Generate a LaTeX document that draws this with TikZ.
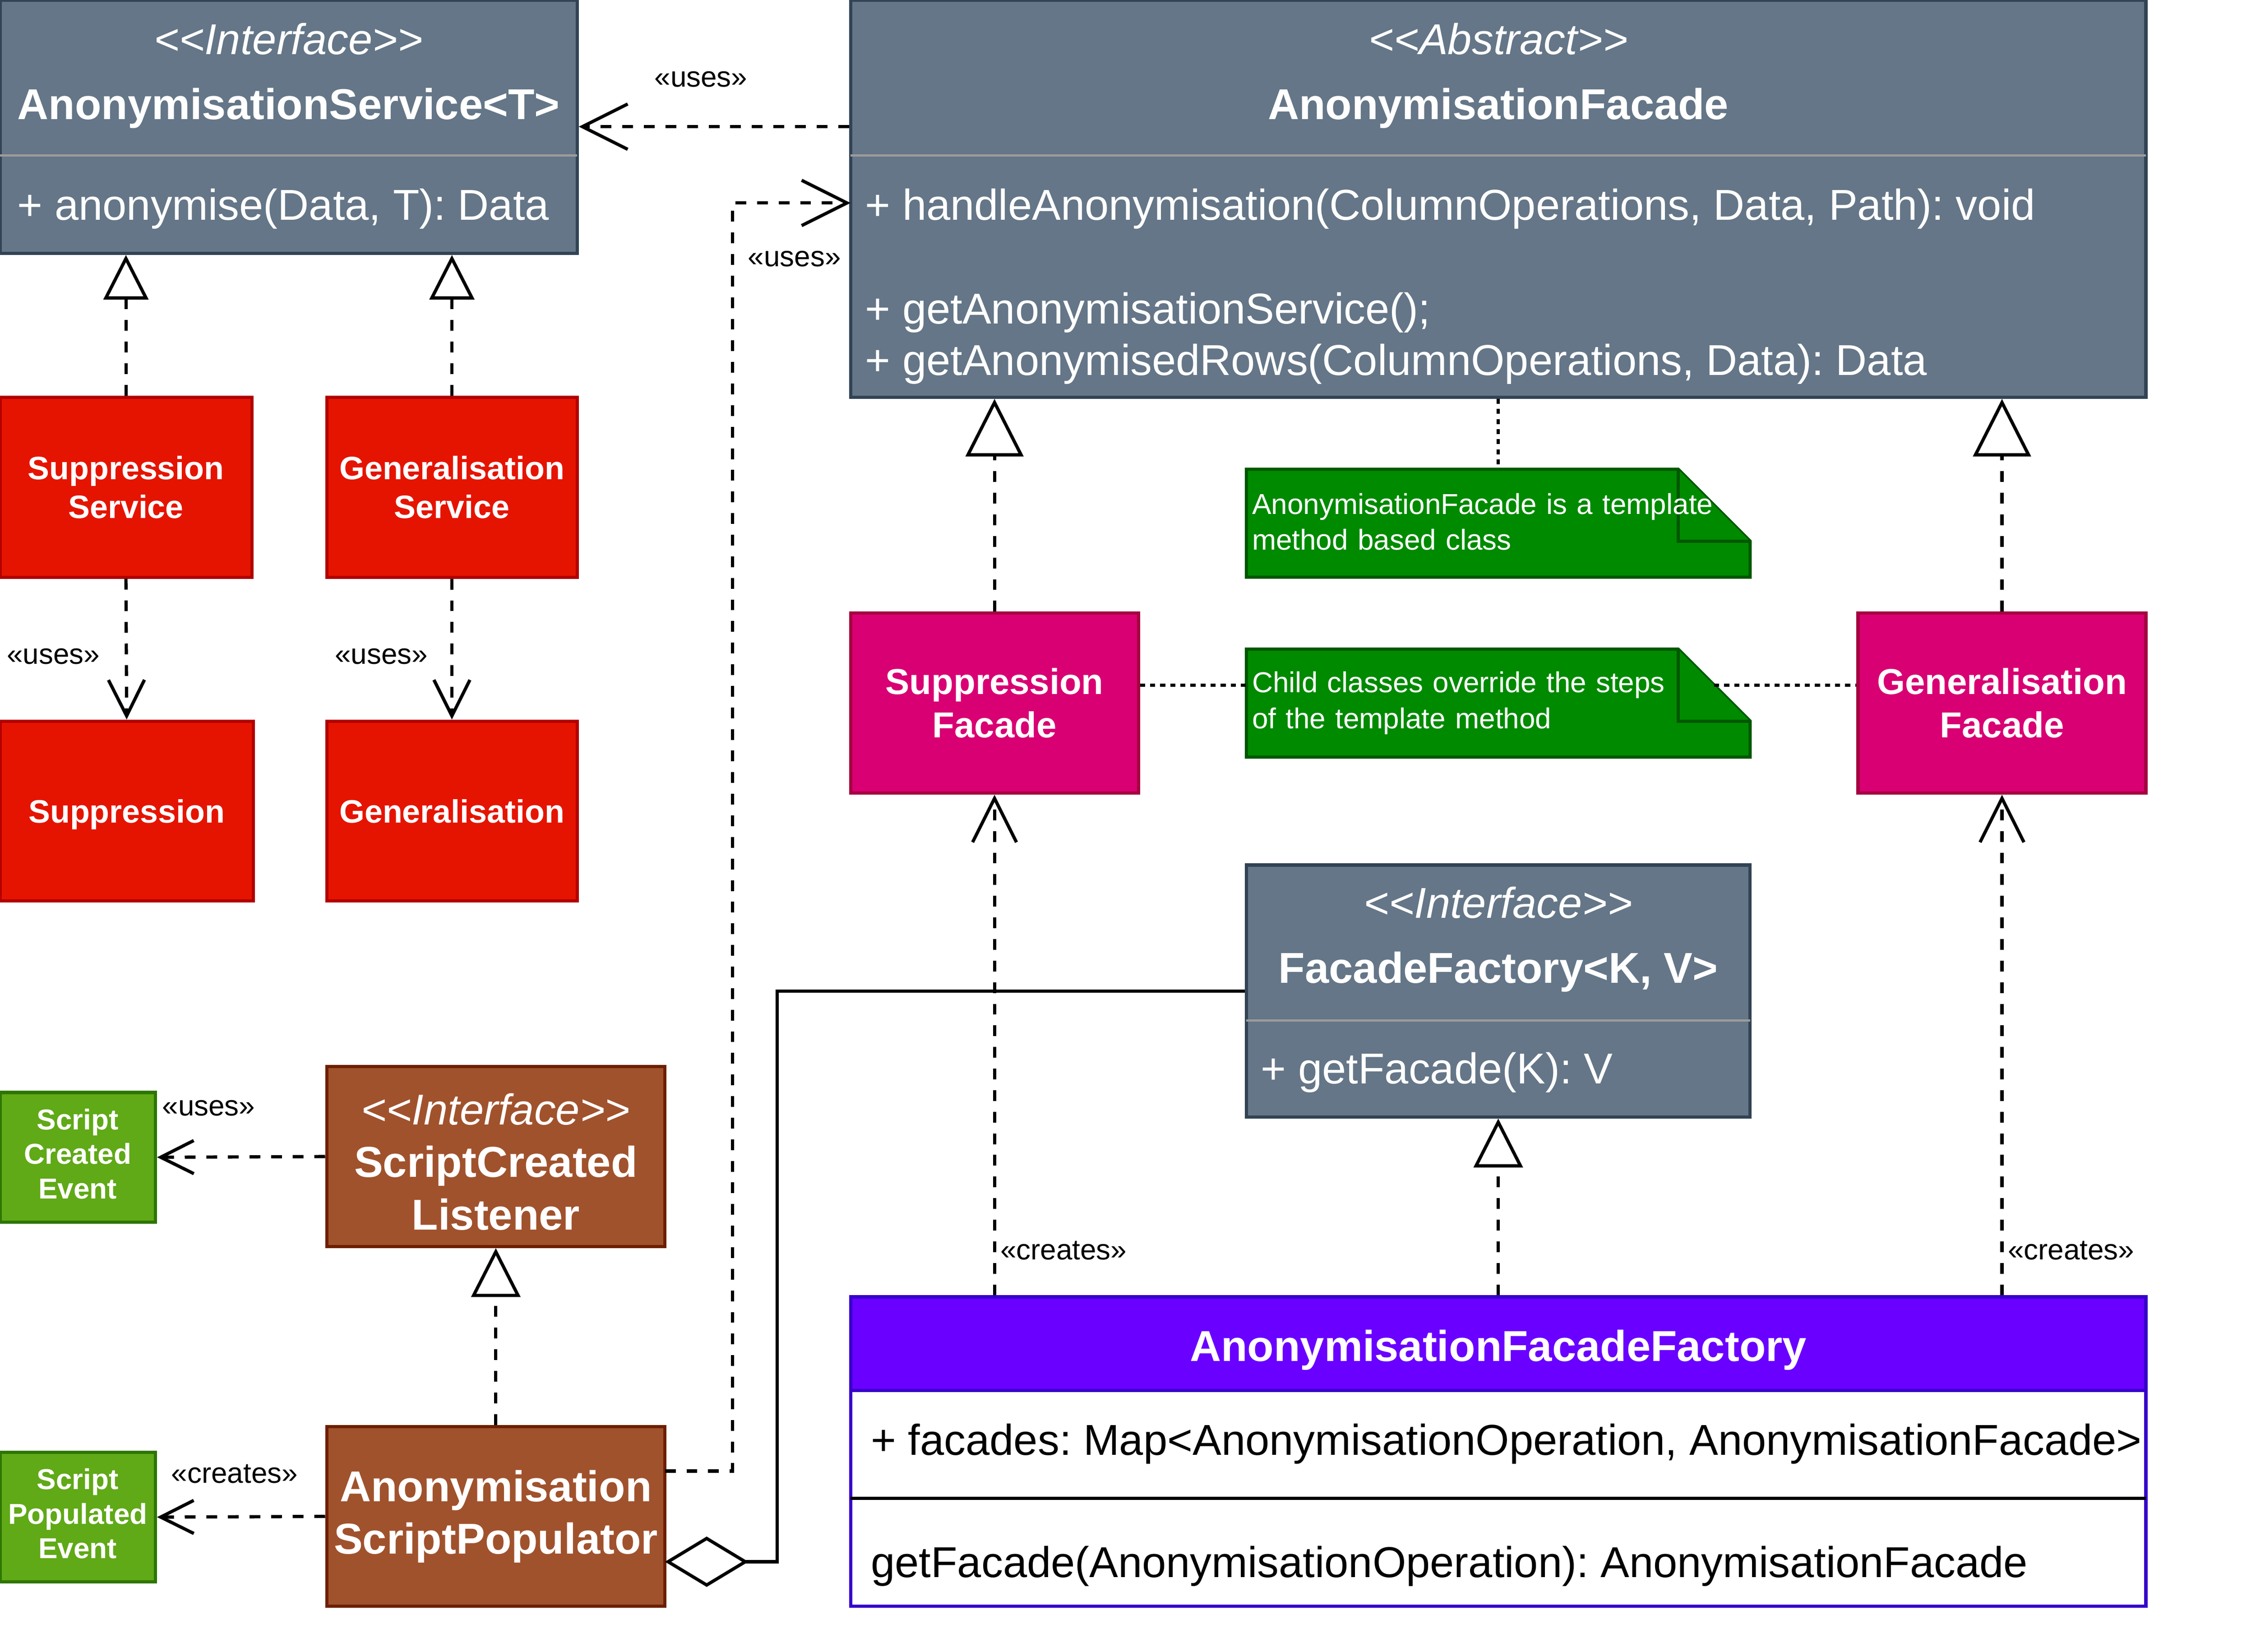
\documentclass[tikz,border=0pt]{standalone}
\usepackage{fontspec}
\setmainfont{Liberation Sans}
\usetikzlibrary{arrows.meta,calc}
\frenchspacing

\definecolor{slatefill}{HTML}{647687}
\definecolor{slateline}{HTML}{314354}
\definecolor{sepgray}{HTML}{9C9C9C}
\definecolor{redfill}{HTML}{E51400}
\definecolor{redline}{HTML}{B20000}
\definecolor{magfill}{HTML}{D80073}
\definecolor{magline}{HTML}{A50040}
\definecolor{notefill}{HTML}{008A00}
\definecolor{noteline}{HTML}{005700}
\definecolor{purpfill}{HTML}{6A00FF}
\definecolor{purpline}{HTML}{3700CC}
\definecolor{brownfill}{HTML}{A0522D}
\definecolor{brownline}{HTML}{6D1F00}
\definecolor{evfill}{HTML}{60A917}
\definecolor{evline}{HTML}{2D7600}

\def\fs#1#2{\fontsize{#1}{#2}\selectfont}
\def\guil#1{<\kern0pt<#1>\kern0pt>}

\tikzset{
	box/.style={draw, line width=2.25pt, inner sep=0pt, align=center, text=white},
	slatebox/.style={box, fill=slatefill, draw=slateline},
	redbox/.style={box, fill=redfill, draw=redline, font=\fs{22.5}{27}\bfseries},
	facadebox/.style={box, fill=magfill, draw=magline, font=\fs{25}{30}\bfseries},
	brownbox/.style={box, fill=brownfill, draw=brownline, font=\fs{30}{36.5}\bfseries},
	eventbox/.style={box, fill=evfill, draw=evline, font=\fs{20}{24}\bfseries},
	oneline/.style={text height=#1, text depth=0pt},
	notebox/.style={fill=notefill, draw=noteline, line width=2.25pt},
	notetext/.style={text=white, font=\fs{20}{25}, align=left, text width=342pt, inner xsep=4pt, inner ysep=0pt, minimum height=75pt},
	stereo/.style={oneline=21.6pt, text=white, font=\fs{30}{36}\itshape},
	classname/.style={oneline=21.6pt, text=white, font=\fs{30}{36}\bfseries},
	member/.style={oneline=21.6pt, anchor=west, inner sep=0pt, text=white, font=\fs{30}{36}},
	tag/.style={oneline=14.4pt, font=\fs{20}{24}},
	sepline/.style={draw=sepgray, line width=1.8pt},
	link/.style={line width=2.25pt, dash pattern=on 7.5pt off 7.5pt},
	usesarrow/.style={link, -{Straight Barb[length=#1, width=#1]}},
	realizearrow/.style={link, -{Triangle[fill=white, length=#1, width=#1]}},
	aggrline/.style={line width=2.25pt, -{Diamond[fill=white, length=58pt, width=35pt]}},
	notelink/.style={line width=2.25pt, dash pattern=on 3.5pt off 3.5pt}
}

\begin{document}
\begin{tikzpicture}[x=1pt, y=-1pt]
			%%%%% START %%%%%
			
			\useasboundingbox (0, 0) rectangle (1567.5, 1147.5);
			
			% services
			\node[slatebox, minimum width=401pt, minimum height=176pt] (as) at (200.5, 88) {};
			\draw[sepline] (0, 108) -- (401, 108);
			\node[stereo] (asstereo) at (200.5, 27) {\guil{Interface}};
			\node[classname] (asname) at (200.5, 72) {AnonymisationService<T>};
			\node[member] (asop) at (12, 142) {+ anonymise(Data, T): Data};
			
			\node[redbox, minimum width=175pt, minimum height=125pt] (supsvc) at (87.5, 338.5) {Suppression\\Service};
			\node[redbox, minimum width=174pt, minimum height=125pt] (gensvc) at (314, 338.5) {Generalisation\\Service};
			\node[redbox, oneline=16.2pt, minimum width=176pt, minimum height=125pt] (supp) at (88, 563.5) {Suppression};
			\node[redbox, oneline=16.2pt, minimum width=174pt, minimum height=125pt] (gen) at (314, 563.5) {Generalisation};
			
			% facades
			\node[slatebox, minimum width=900pt, minimum height=276pt] (af) at (1041, 138) {};
			\draw[sepline] (591, 108) -- (1491, 108);
			\node[stereo] (afstereo) at (1041, 27) {\guil{Abstract}};
			\node[classname] (afname) at (1041, 72) {AnonymisationFacade};
			\node[member] (afopa) at (601, 142) {+ handleAnonymisation(ColumnOperations, Data, Path): void};
			\node[member] (afopb) at (601, 214) {+ getAnonymisationService();};
			\node[member] (afopc) at (601, 250) {+ getAnonymisedRows(ColumnOperations, Data): Data};
			
			\node[facadebox, minimum width=200pt, minimum height=125pt] (supf) at (691, 488.5) {Suppression\\Facade};
			\node[facadebox, minimum width=200pt, minimum height=125pt] (genf) at (1391, 488.5) {Generalisation\\Facade};
			
			\draw[notebox] (866, 326) -- (1166, 326) -- (1216, 376) -- (1216, 401) -- (866, 401) -- cycle;
			\draw[notebox] (1166, 326) -- (1166, 376) -- (1216, 376);
			\node[notetext] (noteone) at (1041, 362.5) {AnonymisationFacade is a template\\method based class};
			
			\draw[notebox] (866, 451) -- (1166, 451) -- (1216, 501) -- (1216, 526) -- (866, 526) -- cycle;
			\draw[notebox] (1166, 451) -- (1166, 501) -- (1216, 501);
			\node[notetext] (notetwo) at (1041, 488.5) {Child classes override the steps\\of the template method};
			
			% factories
			\node[slatebox, minimum width=350pt, minimum height=175pt] (ff) at (1041, 688.5) {};
			\draw[sepline] (866, 709) -- (1216, 709);
			\node[stereo] (ffstereo) at (1041, 627) {\guil{Interface}};
			\node[classname] (ffname) at (1041, 672) {FacadeFactory<K, V>};
			\node[member] (ffop) at (876, 742) {+ getFacade(K): V};
			
			\node[box, fill=white, draw=purpline, minimum width=900pt, minimum height=215pt] (aff) at (1041, 1008.5) {};
			\draw[fill=purpfill, draw=purpline, line width=2.25pt] (591, 901) rectangle (1491, 966);
			\draw[line width=2.25pt] (591, 1041) -- (1491, 1041);
			\node[classname] (affname) at (1041, 935) {AnonymisationFacadeFactory};
			\node[member, text=black] (affattr) at (605, 1000) {+ facades: Map<AnonymisationOperation, AnonymisationFacade>};
			\node[member, text=black] (affop) at (605, 1085) {getFacade(AnonymisationOperation): AnonymisationFacade};
			
			% script side
			\node[brownbox, minimum width=235pt, minimum height=125pt] (listener) at (344.5, 803.5) {{\mdseries\itshape\guil{Interface}\rule{0pt}{29pt}}\\ScriptCreated\\Listener};
			\node[brownbox, minimum width=235pt, minimum height=125pt] (pop) at (344.5, 1053.5) {Anonymisation\\ScriptPopulator};
			\node[eventbox, minimum width=108pt, minimum height=90pt] (cev) at (54, 804) {Script\\Created\\Event\rule[-5pt]{0pt}{0pt}};
			\node[eventbox, minimum width=108pt, minimum height=90pt] (pev) at (54, 1054) {Script\\Populated\\Event\rule[-5pt]{0pt}{0pt}};
			
			% connectors
			\draw[usesarrow=31.5pt] (af.west |- as.east) -- (as.east);
			\node[tag] (usesservice) at (487, 53) {«uses»};
			
			\coordinate (popuses) at (462, 1022);
			\coordinate (afuses) at (591, 141);
			\draw[usesarrow=31.5pt] (popuses) -- ++(47, 0) |- (afuses);
			\node[tag] (usesfacade) at (552, 178) {«uses»};
			
			\draw[realizearrow=31pt] (supsvc.north) -- (supsvc.north |- as.south);
			\draw[realizearrow=31pt] (gensvc.north) -- (gensvc.north |- as.south);
			\draw[usesarrow=25pt] (supsvc.south) -- (supp.north);
			\node[tag] (usessupp) at (37, 454) {«uses»};
			\draw[usesarrow=25pt] (gensvc.south) -- (gen.north);
			\node[tag] (usesgen) at (265, 454) {«uses»};
			
			\draw[realizearrow=40pt] (supf.north) -- (supf.north |- af.south);
			\draw[realizearrow=40pt] (genf.north) -- (genf.north |- af.south);
			
			\coordinate (foldtwo) at (1191, 476);
			\draw[notelink] (af.south) -- (noteone.north);
			\draw[notelink] (supf.east |- foldtwo) -- (notetwo.west |- foldtwo);
			\draw[notelink] (foldtwo) -- (genf.west |- foldtwo);
			
			\draw[usesarrow=30.5pt] (aff.north -| supf.south) -- (supf.south);
			\node[tag] (createssupf) at (739, 868) {«creates»};
			\draw[usesarrow=30.5pt] (aff.north -| genf.south) -- (genf.south);
			\node[tag] (createsgenf) at (1439, 868) {«creates»};
			\draw[realizearrow=34pt] (aff.north) -- (ff.south);
			
			\coordinate (popagg) at (462, 1085);
			\draw[aggrline] (ff.west) -- ++(-325, 0) |- (popagg);
			
			\draw[realizearrow=34pt] (pop.north) -- (listener.south);
			\draw[usesarrow=23pt] (listener.west) -- (cev.east);
			\node[tag] (usesevent) at (145, 768) {«uses»};
			\draw[usesarrow=23pt] (pop.west) -- (pev.east);
			\node[tag] (createsevent) at (163, 1023) {«creates»};
			
			%%%%% END %%%%%
\end{tikzpicture}
\end{document}
